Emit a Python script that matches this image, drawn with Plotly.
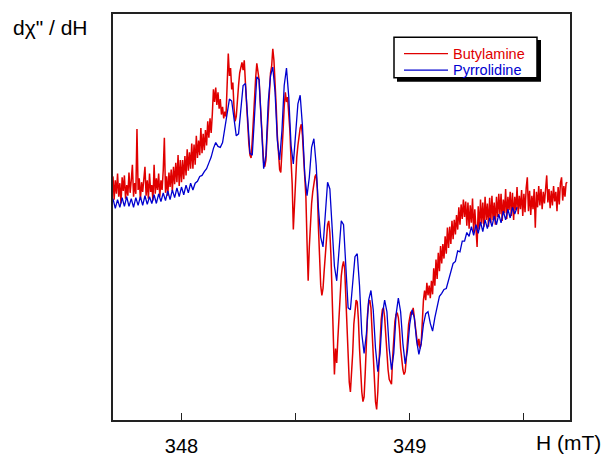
import numpy as np
import plotly.graph_objects as go

# Field sweep (mT): start and sampling step of each recorded spectrum
H_START = 347.70
RED_STEP = 0.005
BLUE_STEP = 0.01

# dchi''/dH (arbitrary units)
butylamine = [
    28, 4, 24, 10, 31, 7, 21, 0, 27, 13,
    29, 5, 19, 8, 32, 11, 24, 40, 7, 21,
    10, 77, 14, 26, 4, 22, 12, 29, 38, 8,
    24, 5, 31, 12, 19, 3, 40, 10, 26, 14,
    31, 7, 24, 14, 34, 68, 11, 28, 8, 32,
    17, 35, 13, 38, 20, 42, 22, 50, 18, 45,
    22, 45, 25, 49, 29, 56, 34, 53, 36, 62,
    36, 61, 40, 70, 47, 65, 50, 78, 52, 72,
    55, 76, 60, 85, 68, 88, 73, 92, 118, 105,
    120, 102, 115, 98, 108, 92, 100, 88, 95, 90,
    120, 155, 132, 140, 118, 125, 100, 85, 90, 110,
    122, 135, 140, 146, 138, 148, 125, 100, 80, 62,
    50, 47, 65, 90, 115, 130, 145, 138, 128, 105,
    80, 58, 42, 38, 45, 70, 95, 118, 135, 142,
    160, 148, 128, 100, 70, 48, 35, 32, 50, 75,
    100, 115, 105, 110, 92, 75, 45, 20, -27, 0,
    30, 48, 60, 72, 78, 82, 70, 48, 25, 7,
    -40, -80, -45, -20, 0, 12, 22, 28, 30, 15,
    -25, -60, -85, -95, -88, -70, -50, -35, -22, -18,
    -30, -55, -90, -125, -177, -150, -165, -140, -115, -95,
    -75, -65, -60, -68, -95, -130, -160, -185, -195, -180,
    -155, -125, -108, -100, -102, -120, -150, -178, -195, -205,
    -200, -175, -140, -115, -103, -100, -108, -130, -160, -185,
    -205, -213, -195, -165, -140, -120, -110, -108, -118, -140,
    -155, -172, -182, -185, -187, -160, -138, -122, -115, -113,
    -118, -130, -150, -165, -172, -177, -174, -160, -140, -125,
    -118, -112, -115, -108, -118, -130, -140, -148, -140, -150,
    -145, -120, -100, -90, -100, -82, -95, -85, -98, -80,
    -94, -67, -85, -58, -78, -51, -70, -44, -62, -42,
    -57, -34, -52, -25, -46, -24, -42, -18, -37, -17,
    -32, -12, -27, -4, -22, -1, -16, 4, -14, 2,
    -23, 1, -26, -2, -20, 5, -30, -6, -23, -45,
    -3, -27, 4, -21, 1, -24, 7, -17, 0, -24,
    6, -20, 8, -17, 1, -22, 7, -14, 10, -11,
    10, -18, 4, -10, 15, -16, 7, -7, 12, -13,
    11, -17, 7, -7, 17, -11, 8, -6, 14, -13,
    10, -9, 16, 27, -8, 13, -12, 8, -6, 15,
    -25, 12, -4, 18, -2, 15, -6, 12, 0, 17,
    29, 1, 15, -5, 13, -2, 18, 2, 12, -8,
    17, -1, 21, 27, 3, 18, 7, 21, 22,
]

pyrrolidine = [
    5, -5, 4, -4, 6, -3, 7, -3, 5, -4,
    6, -2, 7, -2, 8, -1, 7, 0, 9, 0,
    10, 2, 11, 3, 13, 4, 14, 6, 16, 7,
    17, 9, 19, 11, 21, 14, 21, 23, 28, 29,
    33, 36, 42, 48, 57, 63, 59, 58, 63, 77,
    95, 108, 106, 87, 70, 72, 100, 122, 124, 92,
    52, 50, 95, 131, 128, 80, 36, 50, 105, 132,
    141, 115, 65, 45, 75, 122, 140, 110, 60, 41,
    70, 103, 112, 80, 30, 8, 27, 58, 67, 40,
    -5, -35, -45, -12, 22, 15, -30, -65, -80, -48,
    -18, -22, -65, -108, -110, -85, -55, -52, -85, -135,
    -155, -135, -100, -90, -110, -150, -174, -155, -115, -100,
    -112, -150, -172, -155, -115, -98, -112, -145, -166, -152,
    -125, -110, -118, -142, -156, -145, -125, -114, -112, -124,
    -132, -118, -107, -96, -93, -89, -88, -80, -71, -62,
    -60, -49, -50, -39, -39, -30, -34, -24, -33, -22,
    -31, -19, -29, -17, -26, -15, -24, -13, -22, -11,
    -20, -8, -17, -6, -15, -4, -11, -4,
]

X_TICKS = [348, 348.5, 349, 349.5]
X_TICK_TEXT = ["348", "", "349", ""]
SERIES_NAMES = ["Butylamine", "Pyrrolidine"]

h_red = np.round(H_START + RED_STEP * np.arange(len(butylamine)), 4)
h_blue = np.round(H_START + BLUE_STEP * np.arange(len(pyrrolidine)), 4)

RED = "#e00000"
BLUE = "#0000d0"
FONT = "Arial, 'Liberation Sans', sans-serif"

fig = go.Figure()
fig.add_trace(go.Scatter(x=h_red, y=butylamine, mode="lines",
                         line=dict(color=RED, width=1.5),
                         name=SERIES_NAMES[0], showlegend=False))
fig.add_trace(go.Scatter(x=h_blue, y=pyrrolidine, mode="lines",
                         line=dict(color=BLUE, width=1.3),
                         name=SERIES_NAMES[1], showlegend=False))


def px(x):
    return (x - 113) / 457.0


def py(y):
    return (434 - y) / 420.0


shapes = [
    # legend shadow, box, sample lines
    dict(type="rect", xref="paper", yref="paper", x0=px(397), x1=px(541),
         y0=py(84), y1=py(41), fillcolor="black", line=dict(width=0),
         layer="above"),
    dict(type="rect", xref="paper", yref="paper", x0=px(394), x1=px(537),
         y0=py(80), y1=py(38), fillcolor="white",
         line=dict(color="black", width=1.5), layer="above"),
    dict(type="line", xref="paper", yref="paper", x0=px(404), x1=px(448),
         y0=py(55), y1=py(55), line=dict(color=RED, width=1.3), layer="above"),
    dict(type="line", xref="paper", yref="paper", x0=px(404), x1=px(448),
         y0=py(72), y1=py(72), line=dict(color=BLUE, width=1.3), layer="above"),
]

annotations = [
    dict(text="d\u03c7\" / dH", xref="paper", yref="paper",
         x=px(11), y=py(14), xanchor="left", yanchor="top",
         showarrow=False, font=dict(size=21, family=FONT)),
    dict(text="H (mT)", xref="paper", yref="paper",
         x=px(534), y=py(457), xanchor="left", yanchor="middle",
         showarrow=False, font=dict(size=21, family=FONT)),
    dict(text=SERIES_NAMES[0], xref="paper", yref="paper",
         x=px(451), y=py(55), xanchor="left", yanchor="middle",
         showarrow=False, font=dict(size=14.5, family=FONT, color=RED)),
    dict(text=SERIES_NAMES[1], xref="paper", yref="paper",
         x=px(451), y=py(72), xanchor="left", yanchor="middle",
         showarrow=False, font=dict(size=14.5, family=FONT, color=BLUE)),
]

fig.update_layout(
    width=606, height=469,
    margin=dict(l=113, r=36, t=14, b=35),
    paper_bgcolor="white", plot_bgcolor="white",
    font=dict(family=FONT, color="black"),
    showlegend=False,
    xaxis=dict(range=[347.7, 349.702], showline=True, mirror=True,
               linecolor="#222", linewidth=1.5, ticks="inside", ticklen=7,
               tickwidth=1.2, tickcolor="#222", tickvals=X_TICKS,
               ticktext=X_TICK_TEXT, tickfont=dict(size=20, family=FONT),
               ticklabelstandoff=7, showgrid=False, zeroline=False),
    yaxis=dict(range=[-224, 196], showline=True, mirror=True,
               linecolor="#222", linewidth=1.5, ticks="",
               showticklabels=False, showgrid=False, zeroline=False),
    shapes=shapes,
    annotations=annotations,
)

fig.write_html("out.html")
